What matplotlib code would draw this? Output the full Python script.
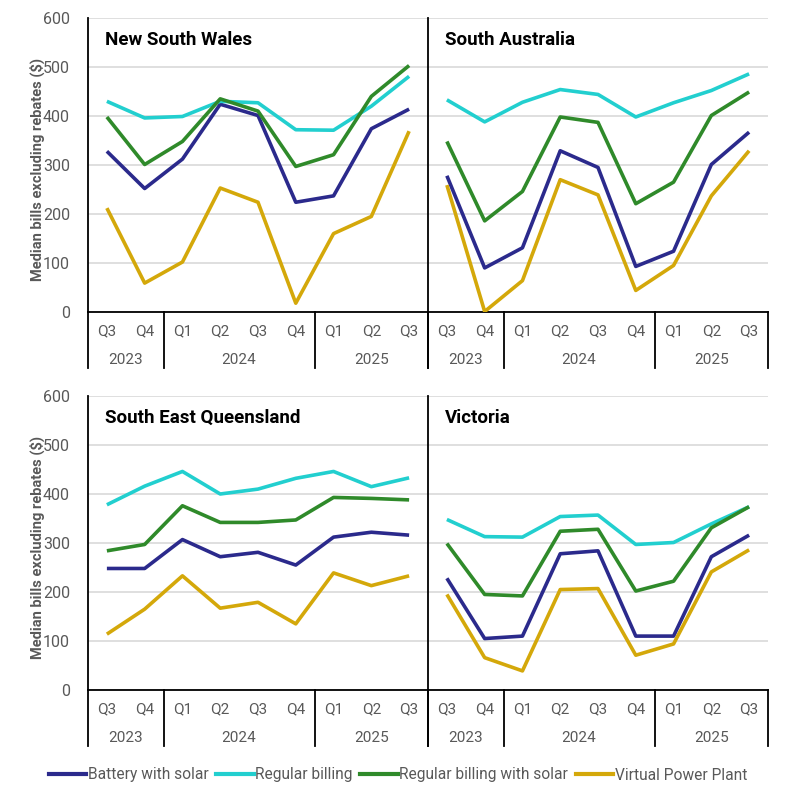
import matplotlib
matplotlib.use("Agg")
import matplotlib.pyplot as plt
from matplotlib.lines import Line2D

plt.rcParams['font.family'] = ['Roboto', 'DejaVu Sans']

quarters = ["Q3", "Q4", "Q1", "Q2", "Q3", "Q4", "Q1", "Q2", "Q3"]
years = ["2023", "2024", "2025"]
year_spans = [(0, 1), (2, 5), (6, 8)]

series_names = ["Battery with solar", "Regular billing", "Regular billing with solar", "Virtual Power Plant"]
colors = ["#2B2A8C", "#22CFCF", "#2F8A2A", "#D4A80A"]

regions = ["New South Wales", "South Australia", "South East Queensland", "Victoria"]

nsw_battery = [328, 252, 312, 424, 401, 224, 237, 374, 414]
nsw_regular = [430, 396, 399, 430, 427, 372, 371, 420, 481]
nsw_reg_solar = [398, 301, 348, 435, 410, 297, 321, 440, 503]
nsw_vpp = [212, 59, 102, 253, 224, 18, 160, 195, 369]

sa_battery = [278, 90, 131, 329, 295, 93, 124, 301, 367]
sa_regular = [433, 388, 428, 454, 444, 398, 427, 452, 486]
sa_reg_solar = [348, 186, 246, 398, 387, 221, 265, 401, 449]
sa_vpp = [259, 1, 64, 270, 239, 44, 95, 237, 329]

seq_battery = [248, 248, 307, 272, 281, 255, 312, 322, 316]
seq_regular = [378, 416, 446, 400, 410, 432, 446, 415, 433]
seq_reg_solar = [284, 297, 376, 342, 342, 347, 393, 391, 388]
seq_vpp = [114, 165, 233, 167, 179, 135, 239, 213, 233]

vic_battery = [228, 105, 110, 278, 284, 110, 110, 272, 316]
vic_regular = [348, 313, 312, 354, 357, 297, 301, 339, 374]
vic_reg_solar = [299, 195, 192, 324, 328, 202, 222, 331, 374]
vic_vpp = [195, 66, 39, 205, 207, 71, 94, 241, 286]

data = [
    [nsw_battery, nsw_regular, nsw_reg_solar, nsw_vpp],
    [sa_battery, sa_regular, sa_reg_solar, sa_vpp],
    [seq_battery, seq_regular, seq_reg_solar, seq_vpp],
    [vic_battery, vic_regular, vic_reg_solar, vic_vpp],
]

fig = plt.figure(figsize=(7.89, 8.0), dpi=100)
W, H = 789, 800
positions = [
    (88, 18), (428, 18),
    (88, 396), (428, 396),
]
aw, ah = 340, 294

grey = "#595959"
fs = 11
axes = []
for i, (px, py) in enumerate(positions):
    ax = fig.add_axes([px / W, 1 - (py + ah) / H, aw / W, ah / H])
    axes.append(ax)
    x = list(range(len(quarters)))
    for s in range(4):
        ax.plot(x, data[i][s], color=colors[s], lw=2.6, solid_capstyle='butt', zorder=3)
    ax.set_xlim(-0.5, len(quarters) - 0.5)
    ax.set_ylim(0, 600)
    ax.set_yticks(range(0, 601, 100))
    ax.yaxis.grid(True, color="#D9D9D9", lw=1.2)
    ax.set_axisbelow(True)
    ax.set_xticks([])
    for sp in ["top", "right"]:
        ax.spines[sp].set_visible(False)
    ax.spines["left"].set_color("black")
    ax.spines["bottom"].set_color("black")
    ax.spines["left"].set_linewidth(1.3)
    ax.spines["bottom"].set_linewidth(1.3)
    ax.tick_params(axis='y', length=0, pad=13, labelsize=fs + 0.5, labelcolor=grey)
    if i % 2 == 1:
        ax.tick_params(axis='y', labelleft=False)
    else:
        ax.set_ylabel("Median bills excluding rebates ($)", fontsize=10.5,
                      fontweight='bold', color=grey)
        ax.yaxis.set_label_coords(-0.125, 0.485)
    ax.text(0.05, 0.955, regions[i], transform=ax.transAxes, fontsize=13.5,
            fontweight='bold', color='black', va='top', ha='left')
    # category axis
    trans = ax.get_xaxis_transform()
    for j, q in enumerate(quarters):
        ax.text(j, -0.065, q, transform=trans, ha='center', va='center',
                fontsize=fs, color=grey)
    for (a, b), yr in zip(year_spans, years):
        ax.text((a + b) / 2, -0.163, yr, transform=trans, ha='center', va='center',
                fontsize=fs, color=grey)
    for bx in [-0.5, 1.5, 5.5, 8.5]:
        ax.add_line(Line2D([bx, bx], [0, -0.19], transform=trans, color='black',
                           lw=1.3, clip_on=False))

handles = [Line2D([0], [0], color=c, lw=3.0) for c in colors]
fig.legend(handles, series_names, loc='center', bbox_to_anchor=(398 / W, 1 - 775 / H),
           ncol=4, frameon=False, fontsize=11.2, handlelength=2.4, handletextpad=0.1,
           columnspacing=0.5, labelcolor=grey)

fig.savefig("out.png", dpi=100)
